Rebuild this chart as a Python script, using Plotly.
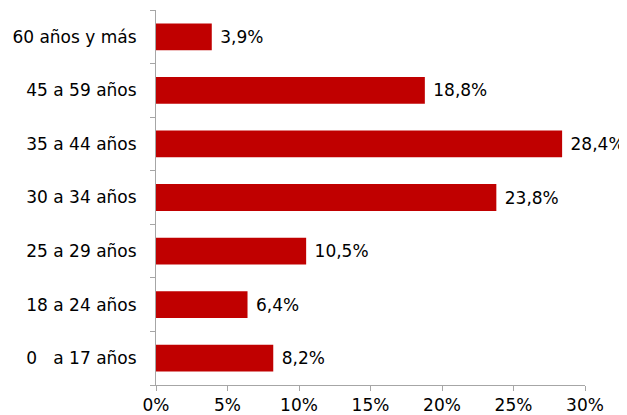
import plotly.graph_objects as go

categories = ["0\u00a0\u00a0\u00a0a 17 años", "18 a 24 años", "25 a 29 años", "30 a 34 años",
              "35 a 44 años", "45 a 59 años", "60 años y más"]
values = [8.2, 6.4, 10.5, 23.8, 28.4, 18.8, 3.9]
labels = ["8,2%", "6,4%", "10,5%", "23,8%", "28,4%", "18,8%", "3,9%"]
tick_vals = [0, 5, 10, 15, 20, 25, 30]
tick_text = ["0%", "5%", "10%", "15%", "20%", "25%", "30%"]

font = dict(family="DejaVu Sans", size=17, color="#000000")

fig = go.Figure(go.Bar(
    y=categories, x=values, orientation="h",
    marker=dict(color="#C00000", line=dict(width=0)),
    text=["\u00a0" + t for t in labels], textposition="outside", textfont=font,
    cliponaxis=False,
))
fig.update_layout(
    width=619, height=407,
    margin=dict(l=148, r=42, t=2, b=30, autoexpand=False),
    paper_bgcolor="white", plot_bgcolor="white",
    bargap=0.5, showlegend=False, font=font,
)
fig.update_xaxes(range=[0, 30], tickvals=tick_vals, ticktext=tick_text,
                 showgrid=False, zeroline=False, showline=True, linecolor="#A6A6A6",
                 linewidth=1, ticks="outside", ticklen=5, tickcolor="#A6A6A6",
                 tickfont=font, automargin=False)
fig.update_yaxes(showgrid=False, zeroline=False, showline=True, linecolor="#A6A6A6",
                 linewidth=1, ticks="outside", ticklen=5, tickcolor="#A6A6A6",
                 tickson="boundaries", tickfont=font, automargin=False,
                 ticklabelstandoff=15)
fig.write_html("out.html")
